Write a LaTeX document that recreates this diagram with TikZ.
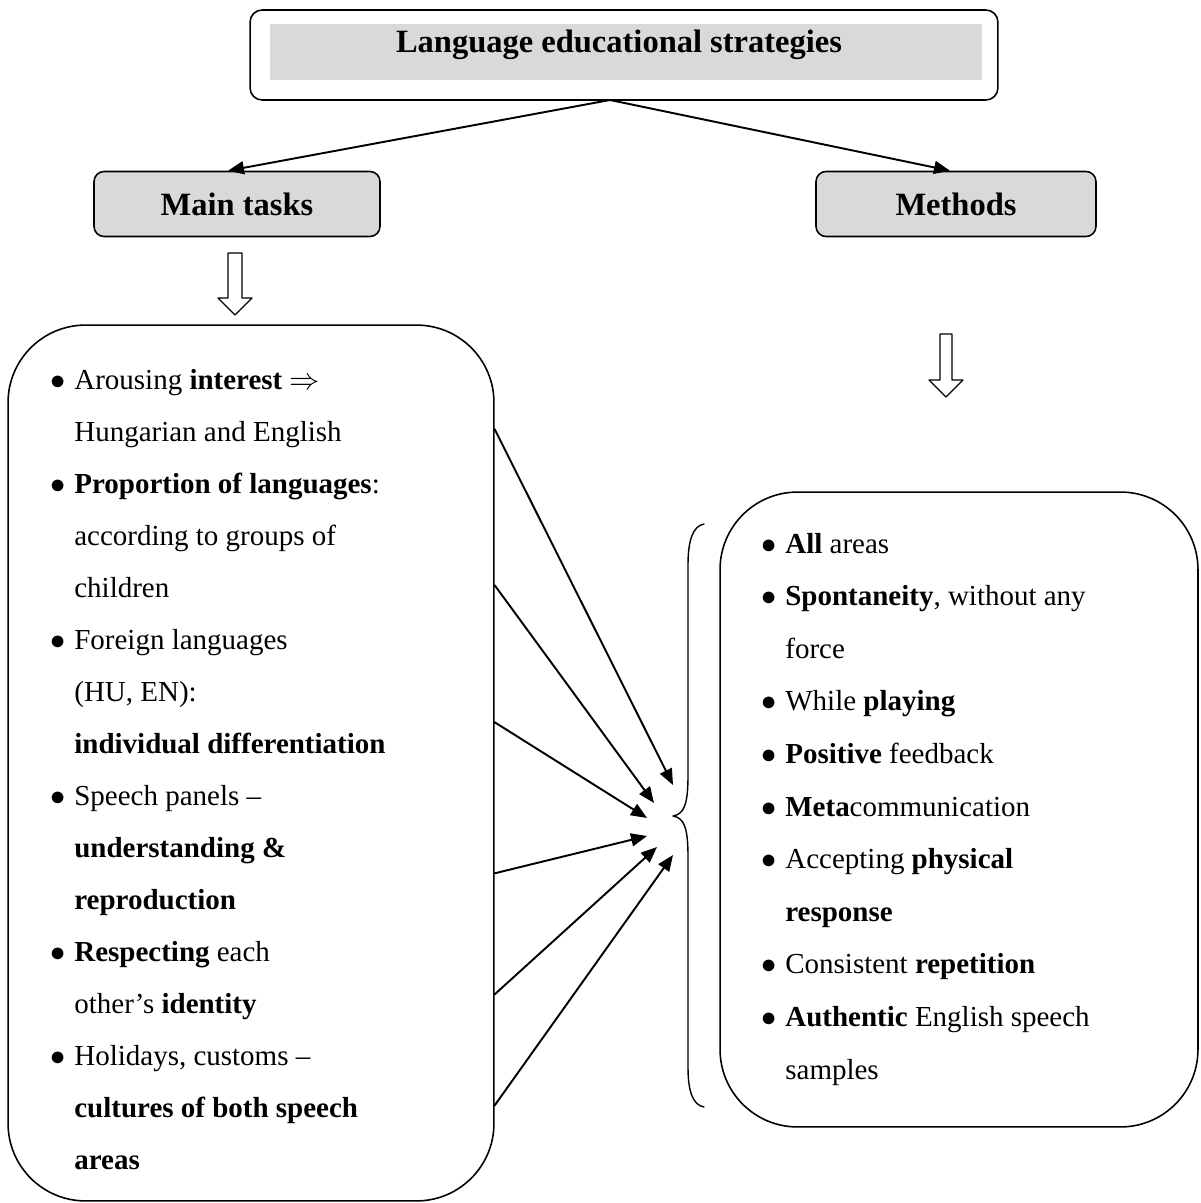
\documentclass[tikz,border=0pt]{standalone}
\usepackage{fontspec}
\setmainfont{Liberation Serif}
\usetikzlibrary{arrows.meta,calc}
\definecolor{bandgray}{RGB}{217,217,217}
\newcommand{\bul}{\llap{$\bullet$\hspace{0.3em}}}

\begin{document}
\begin{tikzpicture}[x=0.02cm,y=-0.02cm,line join=round,line cap=round,
    >={Triangle[length=3.2mm,width=2.6mm]},
    headbox/.style={draw,line width=0.9pt,fill=bandgray,rounded corners=0.2cm,minimum height=1.3cm,inner sep=0pt,font=\fontsize{18.5}{22}\selectfont\bfseries},
    listbox/.style={draw,line width=0.9pt,rounded corners=1.55cm,inner sep=0pt},
    txt/.style={anchor=base west,inner sep=0pt,font=\fontsize{16.5}{20}\selectfont},
    link/.style={->,line width=1.1pt},
    hollow/.style={line width=0.7pt}]
  \useasboundingbox (0,0) rectangle (1200,1203);
  % title
  \node[draw,line width=0.9pt,rounded corners=0.24cm,minimum width=14.96cm,minimum height=1.8cm,inner sep=0pt] (top) at (624,55) {};
  \fill[bandgray] (270,24) rectangle (982,80);
  \node[anchor=base,inner sep=0pt,font=\fontsize{18.5}{22}\selectfont\bfseries] (title) at (619,53) {Language educational strategies};
  % second row
  \node[headbox,minimum width=5.72cm] (tasks) at (237,204) {Main tasks};
  \node[headbox,minimum width=5.6cm] (methods) at (956,204) {Methods};
  \coordinate (split) at (610,100);
  \draw[link] (split) -- ($(tasks.north)+(-9,0)$);
  \draw[link] (split) -- ($(methods.north)+(-6,0)$);
  \foreach \cx/\ya/\yb/\yc/\w in {235/253/298/315/7,946/334/380/397/6}
    \draw[hollow] (\cx-\w,\ya) -- (\cx-\w,\yb) -- (\cx-17,\yb) -- (\cx,\yc) -- (\cx+17,\yb) -- (\cx+\w,\yb) -- (\cx+\w,\ya) -- cycle;
  % lists
  \node[listbox,minimum width=9.72cm,minimum height=17.52cm] (tasklist) at (251,763) {};
  \node[listbox,minimum width=9.56cm,minimum height=12.7cm] (methodlist) at (959,809.5) {};
  \foreach \t [count=\i] in {{\bul Arousing \textbf{interest} $\Rightarrow$},{Hungarian and English},
      {\bul \textbf{Proportion of languages}:},{according to groups of},{children},
      {\bul Foreign languages},{(HU, EN):},{\textbf{individual differentiation}},
      {\bul Speech panels --},{\textbf{understanding \&}},{\textbf{reproduction}},
      {\bul \textbf{Respecting} each},{other’s \textbf{identity}},
      {\bul Holidays, customs --},{\textbf{cultures of both speech}},{\textbf{areas}}}
    \node[txt] (tl\i) at (74,{389+52*(\i-1)}) {\t};
  \foreach \t [count=\i] in {{\bul \textbf{All} areas},{\bul \textbf{Spontaneity}, without any},{force},
      {\bul While \textbf{playing}},{\bul \textbf{Positive} feedback},{\bul \textbf{Meta}communication},
      {\bul Accepting \textbf{physical}},{\textbf{response}},{\bul Consistent \textbf{repetition}},
      {\bul \textbf{Authentic} English speech},{samples}}
    \node[txt] (ml\i) at (785,{553+52.6*(\i-1)}) {\t};
  % brace
  \draw[line width=0.8pt] (704,524) .. controls (693,526) and (688,540) .. (688,565) -- (688,775)
    .. controls (688,805) and (684,814) .. (673,816) .. controls (684,818) and (688,827) .. (688,857)
    -- (688,1067) .. controls (688,1092) and (693,1105) .. (704,1107);
  \foreach \ys/\xe/\ye [count=\i] in {430/673/785,586/654/803,723/647/818,874/647/836,995/657/847,1106/673/855}{
    \coordinate (e\i) at (\xe,\ye);
    \draw[link] ($(tasklist.north east)+(0,\ys-325)$) -- (e\i);
  }
\end{tikzpicture}
\end{document}
